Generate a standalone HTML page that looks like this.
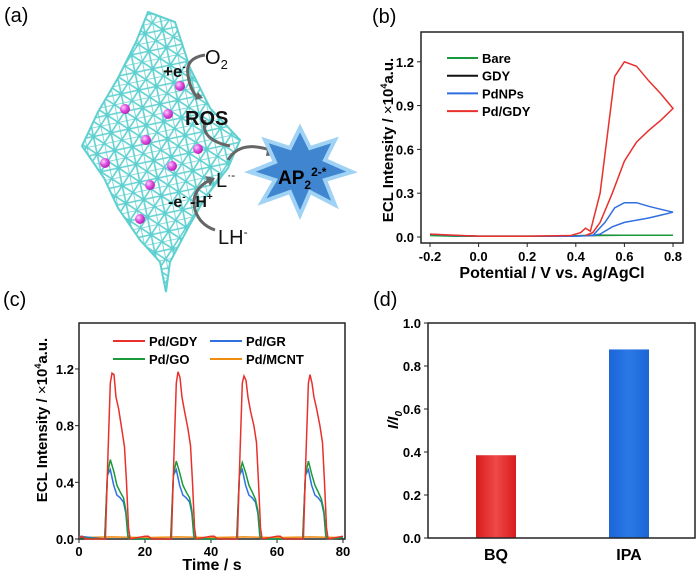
<!DOCTYPE html>
<html><head><meta charset="utf-8"><style>
body{margin:0;background:#fff;}
svg text{font-family:"Liberation Sans",Arial,sans-serif;}
</style></head><body>
<svg id="fig" width="700" height="576" viewBox="0 0 700 576" xmlns="http://www.w3.org/2000/svg">
<defs>
<pattern id="mesh" width="18" height="18" patternUnits="userSpaceOnUse" patternTransform="rotate(-12)">
<path d="M0 0H18M0 9H18M0 0V18M9 0V18M0 0L9 9L18 0M0 18L9 9L18 18" stroke="#5fd0d0" stroke-width="1.6" fill="none"/>
</pattern>
<radialGradient id="ball" cx="0.35" cy="0.35" r="0.7"><stop offset="0" stop-color="#ffd0ff"/><stop offset="0.5" stop-color="#e050e0"/><stop offset="1" stop-color="#b020b0"/></radialGradient>
<linearGradient id="redbar" x1="0" x2="1"><stop offset="0" stop-color="#d81c1c"/><stop offset="0.5" stop-color="#f04848"/><stop offset="1" stop-color="#d81c1c"/></linearGradient>
<linearGradient id="bluebar" x1="0" x2="1"><stop offset="0" stop-color="#1c66d8"/><stop offset="0.5" stop-color="#2a78e6"/><stop offset="1" stop-color="#1c66d8"/></linearGradient>
</defs>

<!-- Panel a -->
<g>
<text x="4" y="22" font-size="20">(a)</text>
<polygon points="148,12 175,22 190,68 210,108 240,140 228,168 205,198 188,228 170,262 166,292 160,262 140,240 118,208 104,178 82,146 98,112 118,78 136,42" fill="url(#mesh)" stroke="#5fd0d0" stroke-width="2"/>
<g>
<circle cx="180" cy="86" r="5" fill="url(#ball)"/><circle cx="125" cy="109" r="5" fill="url(#ball)"/>
<circle cx="168" cy="114" r="5" fill="url(#ball)"/><circle cx="146" cy="140" r="5" fill="url(#ball)"/>
<circle cx="198" cy="149" r="5" fill="url(#ball)"/><circle cx="105" cy="163" r="5" fill="url(#ball)"/>
<circle cx="172" cy="166" r="5" fill="url(#ball)"/><circle cx="150" cy="185" r="5" fill="url(#ball)"/>
<circle cx="140" cy="219" r="5" fill="url(#ball)"/>
</g>
<g fill="none" stroke="#666" stroke-width="3">
<path d="M205 55 Q185 58 188 75 Q190 90 198 98"/>
<path d="M205 120 Q200 140 230 146"/>
<path d="M228 160 Q240 140 270 150"/>
<path d="M210 180 Q190 190 195 210 Q200 225 215 230"/>
</g>
<polygon points="195,100 203,98 198,92" fill="#666"/>
<polygon points="268,144 278,155 266,156" fill="#666"/>
<polygon points="205,176 215,178 210,186" fill="#666"/>
<polygon points="300,128 310,148 335,140 325,160 352,172 325,180 335,205 310,192 300,215 290,192 262,202 275,180 250,172 275,162 265,140 290,148" fill="#3f85d0" stroke="#9fd2f5" stroke-width="4"/>
<text x="278" y="184" font-size="19" font-weight="bold">AP<tspan font-size="12" dy="5">2</tspan><tspan font-size="12" dy="-13">2-*</tspan></text>
<g font-size="20" font-weight="bold" fill="#111">
<text x="205" y="64" font-weight="normal">O<tspan font-size="13" dy="5">2</tspan></text>
<text x="163" y="77" font-size="17">+e<tspan font-size="10" dy="-7">-</tspan></text>
<text x="185" y="125">ROS</text>
<text x="216" y="187" font-weight="normal">L<tspan font-size="12" dy="-8">·-</tspan></text>
<text x="168" y="207" font-size="16">-e<tspan font-size="10" dy="-7">-</tspan><tspan dy="7"> -H</tspan><tspan font-size="10" dy="-7">+</tspan></text>
<text x="218" y="244" font-weight="normal">LH<tspan font-size="12" dy="-8">-</tspan></text>
</g>
</g>

<g id="pb"></g>
<g id="pc"></g>
<g id="pd"></g>
</svg>
<script>
// ---- Panel b data ----
const bBaseX=[-0.2,-0.1,0,0.1,0.2,0.3,0.4,0.5,0.6,0.7,0.8];
const bBareY=[0.01,0.005,0.005,0.005,0.005,0.005,0.008,0.01,0.012,0.012,0.012];
const bGdyY=[0.012,0.008,0.006,0.006,0.006,0.006,0.008,0.012,0.012,0.012,0.012];
const bPdX=[-0.2,-0.1,0,0.2,0.4,0.47,0.52,0.56,0.6,0.65,0.7,0.75,0.8,0.75,0.7,0.6,0.55,0.5,0.47];
const bPdY=[0.02,0.01,0.005,0.005,0.005,0.01,0.1,0.2,0.235,0.235,0.21,0.19,0.17,0.15,0.13,0.1,0.07,0.02,0.01];
const bPdGdyX=[-0.2,0,0.2,0.38,0.42,0.44,0.46,0.5,0.53,0.56,0.6,0.65,0.7,0.75,0.8,0.75,0.7,0.65,0.6,0.55,0.5,0.47,0.44];
const bPdGdyY=[0.02,0.005,0.005,0.01,0.03,0.06,0.04,0.3,0.7,1.1,1.2,1.17,1.07,0.98,0.88,0.8,0.73,0.65,0.52,0.3,0.1,0.03,0.01];
const bYTicks=[0,0.3,0.6,0.9,1.2];
const bXTicks=[-0.2,0,0.2,0.4,0.6,0.8];
const bLegend=["Bare","GDY","PdNPs","Pd/GDY"];
// ---- Panel c data ----
const cGdyT=[0,1,2,8,8.8,9.5,10,10.6,11.2,12,13,13.8,14.4,15,15.5,20,21,22,28,28.8,29.5,30,30.6,31.2,32,33,33.8,34.4,35,35.5,40,41,42,48,48.8,49.5,50,50.6,51.2,52,53,53.8,54.4,55,55.5,60,61,62,68,68.8,69.5,70,70.6,71.2,72,73,73.8,74.4,75,75.5,80];
const cGdyV=[0.01,0.02,0,0,0.6,1.1,1.17,1.16,1.0,0.92,0.77,0.65,0.4,0.08,0,0.02,0.02,0,0,0.6,1.1,1.18,1.14,1.0,0.9,0.78,0.66,0.4,0.08,0,0.02,0.02,0,0,0.6,1.1,1.15,1.12,1.0,0.9,0.8,0.68,0.4,0.08,0,0.02,0.02,0,0,0.6,1.1,1.16,1.1,1.0,0.92,0.8,0.68,0.4,0.08,0,0.02];
const cGoT=[0,7.8,8.6,9.5,10.5,11.5,12.5,13.5,14.2,14.8,15.2,27.8,28.6,29.5,30.5,31.5,32.5,33.5,34.2,34.8,35.2,47.8,48.6,49.5,50.5,51.5,52.5,53.5,54.2,54.8,55.2,67.8,68.6,69.5,70.5,71.5,72.5,73.5,74.2,74.8,75.2,80];
const cGoV=[0.01,0,0.45,0.56,0.48,0.38,0.33,0.29,0.2,0.03,0,0,0.45,0.55,0.47,0.38,0.33,0.29,0.2,0.03,0,0,0.45,0.54,0.47,0.38,0.33,0.28,0.2,0.03,0,0,0.45,0.55,0.46,0.38,0.33,0.28,0.2,0.03,0,0.01];
const cGrT=cGoT;
const cGrV=[0.02,0,0.45,0.49,0.38,0.31,0.29,0.26,0.18,0.02,0,0,0.45,0.49,0.38,0.31,0.29,0.26,0.18,0.02,0,0,0.45,0.49,0.38,0.31,0.29,0.26,0.18,0.02,0,0,0.45,0.49,0.38,0.31,0.29,0.26,0.18,0.02,0,0.01];
const cMcntT=[0,10,20,30,40,50,60,70,80];
const cMcntV=[0.01,0.015,0.01,0.015,0.01,0.015,0.01,0.015,0.01];
const cYTicks=[0,0.4,0.8,1.2];
const cXTicks=[0,20,40,60,80];
// ---- Panel d data ----
const dCats=["BQ","IPA"];
const dVals=[0.385,0.877];
const dYTicks=[0,0.2,0.4,0.6,0.8,1.0];

const NS="http://www.w3.org/2000/svg";
function mk(parent,tag,attrs,txt){const e=document.createElementNS(NS,tag);for(const k in attrs)e.setAttribute(k,attrs[k]);if(txt!==undefined)e.textContent=txt;parent.appendChild(e);return e;}
function poly(xs,ys,sx,sy){return xs.map((x,i)=>sx(x).toFixed(1)+","+sy(ys[i]).toFixed(1)).join(" ");}

// Panel b
(function(){
const g=document.getElementById('pb');
const x0=421,x1=683,y0=32,y1=243;
const sx=v=>430+(v+0.2)*243, sy=v=>237-v*146;
let t=mk(g,'text',{x:372,y:23,'font-size':20},'(b)');


const fr=mk(g,'rect',{x:x0,y:y0,width:x1-x0,height:y1-y0,fill:'none',stroke:'#222','stroke-width':1.5});


bYTicks.forEach(v=>{mk(g,'line',{x1:x0-4,x2:x0,y1:sy(v),y2:sy(v),stroke:'#222'});
const l=mk(g,'text',{x:x0-7,y:sy(v)+5,'font-size':13,'font-weight':'bold','text-anchor':'end'},v.toFixed(1));

});
bXTicks.forEach(v=>{mk(g,'line',{x1:sx(v),x2:sx(v),y1:y1,y2:y1+4,stroke:'#222'});
const l=mk(g,'text',{x:sx(v),y:y1+18,'font-size':13,'font-weight':'bold','text-anchor':'middle'},v.toFixed(1));

});
const xt=mk(g,'text',{x:552,y:278,'font-size':16,'font-weight':'bold','text-anchor':'middle'},'Potential / V vs. Ag/AgCl');


const yt=mk(g,'text',{x:0,y:0,'font-size':15,'font-weight':'bold','text-anchor':'middle',transform:'translate(393,140) rotate(-90)'});
yt.innerHTML='ECL Intensity / <tspan font-weight="normal">×</tspan>10<tspan font-size="9" dy="-6">4</tspan><tspan dy="6">a.u.</tspan>';


const series=[[bBaseX,bGdyY,'#111','series-gdy'],[bBaseX,bBareY,'#1a9a3a','series-bare'],[bPdX,bPdY,'#2f6fe0','series-pdnps'],[bPdGdyX,bPdGdyY,'#e8302c','series-pd-gdy']];
series.forEach(s=>{const p=mk(g,'polyline',{points:poly(s[0],s[1],sx,sy),fill:'none',stroke:s[2],'stroke-width':1.5});

});
const cols=['#1a9a3a','#111','#2f6fe0','#e8302c'];
bLegend.forEach((n,i)=>{const y=58+i*17.7;
mk(g,'line',{x1:447,x2:478,y1:y,y2:y,stroke:cols[i],'stroke-width':2});
const l=mk(g,'text',{x:482,y:y+5,'font-size':13,'font-weight':'bold'},n);

});
})();

// Panel c
(function(){
const g=document.getElementById('pc');
const x0=79,x1=345,y0=323,y1=539;
const sx=v=>79+v*3.3, sy=v=>539-v*141.7;
let t=mk(g,'text',{x:3,y:306,'font-size':20},'(c)');


const fr=mk(g,'rect',{x:x0,y:y0,width:x1-x0,height:y1-y0,fill:'none',stroke:'#222','stroke-width':1.5});


cYTicks.forEach(v=>{mk(g,'line',{x1:x0-4,x2:x0,y1:sy(v),y2:sy(v),stroke:'#222'});
const l=mk(g,'text',{x:x0-5,y:sy(v)+5,'font-size':13,'font-weight':'bold','text-anchor':'end'},v.toFixed(1));

});
cXTicks.forEach(v=>{mk(g,'line',{x1:sx(v),x2:sx(v),y1:y1,y2:y1+4,stroke:'#222'});
const l=mk(g,'text',{x:sx(v),y:y1+17,'font-size':13,'font-weight':'bold','text-anchor':'middle'},String(v));

});
const xt=mk(g,'text',{x:212,y:570,'font-size':16,'font-weight':'bold','text-anchor':'middle'},'Time / s');


const yt=mk(g,'text',{x:0,y:0,'font-size':15,'font-weight':'bold','text-anchor':'middle',transform:'translate(47,420) rotate(-90)'});
yt.innerHTML='ECL Intensity / <tspan font-weight="normal">×</tspan>10<tspan font-size="9" dy="-6">4</tspan><tspan dy="6">a.u.</tspan>';


const series=[[cMcntT,cMcntV,'#f08c10','series-pd-mcnt'],[cGrT,cGrV,'#2f6fe0','series-pd-gr'],[cGoT,cGoV,'#1a9a3a','series-pd-go'],[cGdyT,cGdyV,'#e8302c','series-pd-gdy-c']];
series.forEach(s=>{const p=mk(g,'polyline',{points:poly(s[0],s[1],sx,sy),fill:'none',stroke:s[2],'stroke-width':1.5});

});
const leg=[['Pd/GDY','#e8302c',113,341],['Pd/GR','#2f6fe0',210,341],['Pd/GO','#1a9a3a',113,359],['Pd/MCNT','#f08c10',210,359]];
leg.forEach(e=>{mk(g,'line',{x1:e[2],x2:e[2]+32,y1:e[3],y2:e[3],stroke:e[1],'stroke-width':2});
const l=mk(g,'text',{x:e[2]+36,y:e[3]+5,'font-size':13,'font-weight':'bold'},e[0]);

});
})();

// Panel d
(function(){
const g=document.getElementById('pd');
const x0=428,x1=695,y0=323,y1=538;
const sy=v=>538-v*215;
const cx=[496,629];
let t=mk(g,'text',{x:373,y:306,'font-size':20},'(d)');


dVals.forEach((v,i)=>{const r=mk(g,'rect',{x:cx[i]-20,y:sy(v),width:40,height:sy(0)-sy(v),fill:i?'url(#bluebar)':'url(#redbar)'});


const l=mk(g,'text',{x:cx[i],y:y1+22,'font-size':16,'font-weight':'bold','text-anchor':'middle'},dCats[i]);

});
const fr=mk(g,'rect',{x:x0,y:y0,width:x1-x0,height:y1-y0,fill:'none',stroke:'#222','stroke-width':1.5});


dYTicks.forEach(v=>{mk(g,'line',{x1:x0-4,x2:x0,y1:sy(v),y2:sy(v),stroke:'#222'});
const l=mk(g,'text',{x:x0-7,y:sy(v)+5,'font-size':13,'font-weight':'bold','text-anchor':'end'},v.toFixed(1));

});
const yt=mk(g,'text',{x:0,y:0,'font-size':15,'font-weight':'bold','font-style':'italic','text-anchor':'middle',transform:'translate(398,420) rotate(-90)'});
yt.innerHTML='I/I<tspan font-size="10" dy="4">0</tspan>';


})();
</script>
</body></html>
